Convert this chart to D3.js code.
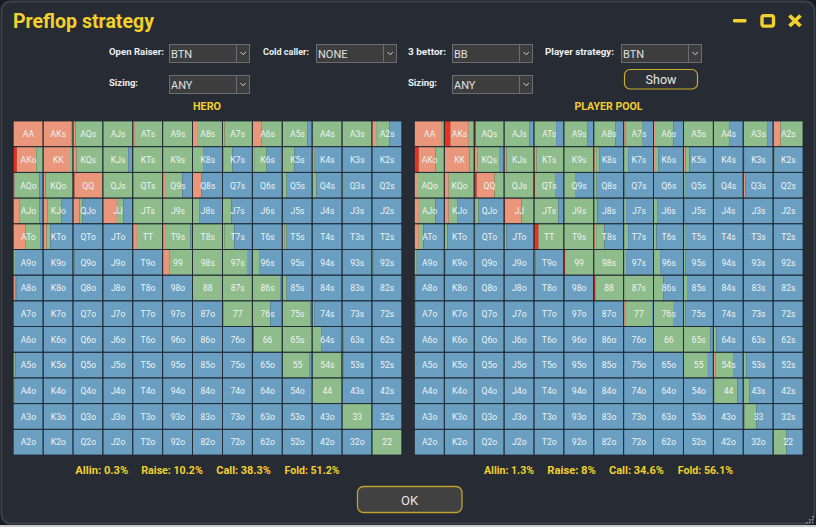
<!DOCTYPE html>
<html><head><meta charset="utf-8">
<script src="https://cdn.jsdelivr.net/npm/d3@7"></script>
<style>html,body{margin:0;padding:0;background:#1a1c20;overflow:hidden}svg{display:block}</style>
</head><body><svg id="c" width="816" height="527"></svg>
<script>
const ranks=["A","K","Q","J","T","9","8","7","6","5","4","3","2"];
// percent of each cell; fold is whatever remains
const heroAllin=[
[0,0,0,0,0,0,0,0,0,0,0,0,0],
[12,0,0,0,0,0,0,0,0,0,0,0,0],
[0,0,5,0,0,0,0,0,0,0,0,0,0],
[0,0,0,0,0,0,0,0,0,0,0,0,0],
[0,0,0,0,0,0,0,0,0,0,0,0,0],
[0,0,0,0,0,0,0,0,0,0,0,0,0],
[0,0,0,0,0,0,0,0,0,0,0,0,0],
[0,0,0,0,0,0,0,0,0,0,0,0,0],
[0,0,0,0,0,0,0,0,5,0,0,0,0],
[0,0,0,0,0,0,0,0,0,0,0,0,0],
[0,0,0,0,0,0,0,0,0,0,0,0,0],
[0,0,0,0,0,0,0,0,0,0,0,0,0],
[0,0,0,0,0,0,0,0,0,0,0,0,0]];
const heroRaise=[
[100,94,8,0,7,0,15,7,30,0,0,0,14],
[65,90,12,0,0,0,0,3,6,6,6,0,0],
[5,8,95,0,0,8,30,0,0,0,0,0,0],
[20,14,22,47,0,0,0,0,0,0,0,0,0],
[42,12,0,0,14,8,0,6,0,7,0,0,0],
[0,3,0,0,0,22,0,0,0,0,0,0,0],
[8,0,0,0,0,0,0,0,0,0,0,0,0],
[0,0,0,0,0,0,0,3,0,0,0,0,0],
[0,0,0,0,0,0,0,0,0,0,0,0,0],
[0,0,0,0,0,0,0,0,0,0,0,0,0],
[0,0,0,0,0,0,0,0,0,0,0,0,0],
[0,0,0,0,0,0,0,0,0,0,0,0,0],
[0,0,0,0,0,0,0,0,0,0,0,0,0]];
const heroCall=[
[0,6,92,100,93,100,85,93,70,85,100,100,44],
[23,10,88,85,100,100,35,30,42,35,3,0,0],
[83,92,0,100,100,58,0,0,0,15,15,6,0],
[67,48,10,21,100,100,24,30,0,0,0,0,0],
[48,12,0,0,86,85,100,34,0,8,0,0,0],
[6,0,5,2,0,78,100,85,25,0,0,0,6],
[2,0,0,0,0,0,100,100,93,15,0,0,0],
[0,0,0,0,0,0,0,97,60,95,7,0,0],
[0,0,0,0,0,0,0,0,95,100,32,5,0],
[7,0,0,0,0,0,0,0,0,92,97,4,0],
[5,0,0,0,0,0,0,0,0,0,100,0,0],
[0,0,0,0,0,0,0,0,0,0,0,100,0],
[0,0,0,0,0,0,0,0,0,0,0,0,100]];
const poolAllin=[
[0,20,6,0,0,0,0,0,0,0,0,0,0],
[14,0,3,0,0,0,0,0,0,0,0,0,3],
[0,0,8,0,3,0,0,0,0,0,0,0,0],
[0,0,0,3,0,0,0,0,0,0,0,0,0],
[0,0,0,0,14,0,0,0,0,0,0,0,0],
[0,0,0,0,0,4,0,0,0,0,0,0,0],
[0,0,0,0,0,0,5,0,0,0,0,0,0],
[0,0,0,0,0,0,0,0,0,0,0,0,0],
[0,0,0,0,0,0,0,0,0,0,0,0,0],
[0,0,0,0,0,0,0,0,0,0,0,0,0],
[0,0,0,0,0,0,0,0,0,0,0,0,0],
[0,0,0,0,0,0,0,0,0,0,0,0,0],
[0,0,0,0,0,0,0,0,0,0,0,0,0]];
const poolRaise=[
[92,62,0,0,0,0,0,7,8,0,0,0,25],
[57,85,7,8,8,0,8,0,8,7,0,0,0],
[12,15,60,0,0,0,0,0,0,0,0,7,0],
[15,15,3,55,0,0,0,0,0,0,0,0,0],
[15,0,0,0,2,0,8,0,0,0,0,0,0],
[0,0,0,0,0,0,0,0,0,0,0,0,0],
[0,0,0,0,0,0,0,0,0,0,0,0,0],
[0,0,0,0,0,0,0,5,0,0,0,0,0],
[0,0,0,0,0,0,0,0,0,0,0,0,0],
[2,0,0,0,0,0,0,0,0,0,8,0,0],
[0,0,0,0,0,0,0,0,0,0,3,0,0],
[0,0,0,0,0,0,0,0,0,0,0,4,0],
[0,0,0,0,0,0,0,0,0,0,0,0,0]];
const poolCall=[
[8,18,94,84,74,78,72,57,58,100,55,80,75],
[29,15,73,92,92,100,10,15,8,13,0,3,2],
[88,85,32,100,70,40,10,3,0,5,4,0,0],
[55,30,12,42,82,100,12,8,12,3,0,0,0],
[15,10,3,8,84,100,28,15,10,5,0,0,0],
[8,3,3,0,5,96,100,8,22,6,0,0,0],
[4,0,0,0,0,2,95,100,33,12,0,0,0],
[3,0,0,0,0,0,0,90,68,6,0,0,0],
[0,0,0,0,0,0,0,0,100,90,10,0,0],
[0,0,0,0,0,0,0,0,0,82,58,10,0],
[0,0,0,0,0,0,0,0,0,0,77,20,0],
[0,0,0,0,0,0,0,0,0,0,0,40,0],
[0,0,0,0,0,0,0,0,0,0,0,0,45]];
const heroStats=["Allin: 0.3%","Raise: 10.2%","Call: 38.3%","Fold: 51.2%"];
const poolStats=["Allin: 1.3%","Raise: 8%","Call: 34.6%","Fold: 56.1%"];
const actionNames=["allin","raise","call","fold"];
const actionColors=["#ee2f20","#e9967a","#8fbc8b","#6a9fc1"];

const YEL="#f2d02e",FONT="Roboto,'Noto Sans',sans-serif";
const svg=d3.select("#c");
svg.append("rect").attr("x",1.5).attr("y",1.5).attr("width",813).attr("height",522).attr("rx",9)
 .attr("fill","#272b33").attr("stroke","#3c424b").attr("stroke-width",2);
svg.append("rect").attr("x",0).attr("y",525).attr("width",816).attr("height",2).attr("fill","#c9cacc");

function txt(x,y,s,o={}){
 const t=svg.append("text").attr("x",x).attr("y",y).text(s)
  .attr("font-family",FONT).attr("font-weight",o.w||700).attr("font-size",o.s||9.5)
  .attr("fill",o.c||"#eceff2").attr("text-anchor",o.a||"start").attr("dominant-baseline","central");
 if(o.l) t.attr("textLength",o.l).attr("lengthAdjust","spacingAndGlyphs");
 return t;
}
txt(13,21,"Preflop strategy",{s:20,c:YEL,l:141});

// window buttons
svg.append("rect").attr("x",733).attr("y",19).attr("width",13.5).attr("height",3.6).attr("rx",1).attr("fill",YEL);
svg.append("rect").attr("x",762).attr("y",15.6).attr("width",11.5).attr("height",10.5).attr("rx",2).attr("fill","none").attr("stroke",YEL).attr("stroke-width",3.4);
svg.append("path").attr("d","M789.5 15.5L800.5 26M800.5 15.5L789.5 26").attr("stroke",YEL).attr("stroke-width",3.8).attr("fill","none");

// dropdowns
const selects=[
 {lab:"Open Raiser:",lx:109,ll:55,x:169,y:44,val:"BTN"},
 {lab:"Sizing:",lx:109,ll:29,x:169,y:75,val:"ANY"},
 {lab:"Cold caller:",lx:263,ll:46,x:316,y:44,val:"NONE"},
 {lab:"3 bettor:",lx:408,ll:38,x:452,y:44,val:"BB"},
 {lab:"Sizing:",lx:408,ll:29,x:452,y:75,val:"ANY"},
 {lab:"Player strategy:",lx:545,ll:69,x:621,y:44,val:"BTN"}];
selects.forEach(d=>{
 txt(d.lx,d.y+7,d.lab,{s:9.5,l:d.ll});
 svg.append("rect").attr("x",d.x+.5).attr("y",d.y+.5).attr("width",80).attr("height",18).attr("fill","#3d3d3d").attr("stroke","#6a6e74").attr("stroke-width",1);
 svg.append("line").attr("x1",d.x+67.5).attr("x2",d.x+67.5).attr("y1",d.y).attr("y2",d.y+18).attr("stroke","#6a6e74");
 txt(d.x+2,d.y+10,d.val,{s:11,w:400,c:"#dfe1e3"});
 svg.append("path").attr("d",`M${d.x+71.5} ${d.y+8}l2.7 2.7l2.7 -2.7`).attr("fill","none").attr("stroke","#d8d8d8").attr("stroke-width",1);
});
svg.append("rect").attr("x",624.5).attr("y",69.5).attr("width",73).attr("height",19.5).attr("rx",5.5).attr("fill","#2d3036").attr("stroke","#cdae2c").attr("stroke-width",1.2);
txt(661,79.5,"Show",{s:12.5,w:400,a:"middle",c:"#e6e6e6"});
svg.append("rect").attr("x",357.5).attr("y",486.5).attr("width",104.5).attr("height",26).attr("rx",6).attr("fill","#414141").attr("stroke","#bfa12c").attr("stroke-width",1.3);
txt(409.5,500,"OK",{s:13,w:400,a:"middle",c:"#e6e6e6"});
txt(207,106,"HERO",{s:10.5,c:YEL,a:"middle",l:28});
txt(608.5,106,"PLAYER POOL",{s:10.5,c:YEL,a:"middle",l:68});

// range grids
const yScale=d3.scaleBand().domain(d3.range(13)).range([121,455]);
function cellLabel(r,c){
 if(r===c) return ranks[r]+ranks[c];
 return r<c? ranks[r]+ranks[c]+"s": ranks[c]+ranks[r]+"o";
}
function grid(x0,x1,allin,raise,call){
 const xScale=d3.scaleBand().domain(d3.range(13)).range([x0,x1]);
 const pct=d3.scaleLinear().domain([0,100]).range([0,xScale.bandwidth()]);
 const g=svg.append("g");
 const cells=[];
 for(let r=0;r<13;r++)for(let c=0;c<13;c++){
  const a=allin[r][c],ra=raise[r][c],ca=call[r][c],f=Math.max(0,100-a-ra-ca);
  cells.push({r,c,label:cellLabel(r,c),vals:[a,ra,ca,f]});
 }
 const cg=g.selectAll("g").data(cells).join("g");
 cg.each(function(d){
  let acc=0;
  const stack=d.vals.map((v,i)=>{const s={i,x:acc,v};acc+=v;return s;}).filter(s=>s.v>0);
  d3.select(this).selectAll("rect").data(stack).join("rect")
   .attr("data-action",s=>actionNames[s.i])
   .attr("x",s=>xScale(d.c)+pct(s.x)).attr("y",yScale(d.r))
   .attr("width",s=>pct(s.v)).attr("height",yScale.bandwidth())
   .attr("fill",s=>actionColors[s.i]);
 });
 g.selectAll("rect.b").data(cells).join("rect").attr("class","b")
  .attr("x",d=>xScale(d.c)).attr("y",d=>yScale(d.r))
  .attr("width",xScale.bandwidth()).attr("height",yScale.bandwidth())
  .attr("fill","none").attr("stroke","#1d2731").attr("stroke-opacity",.85).attr("stroke-width",.9);
 g.selectAll("text").data(cells).join("text")
  .attr("x",d=>xScale(d.c)+xScale.bandwidth()/2+.3).attr("y",d=>yScale(d.r)+yScale.bandwidth()/2+.3)
  .attr("text-anchor","middle").attr("dominant-baseline","central")
  .attr("font-family",FONT).attr("font-size",8.6).attr("fill","#eef3f5").text(d=>d.label);
}
grid(13.2,401.8,heroAllin,heroRaise,heroCall);
grid(414.4,803,poolAllin,poolRaise,poolCall);

// totals
const heroStatX=[[75.3,53],[141.3,61.5],[216.3,54.5],[284.6,55]];
const poolStatX=[[484,50],[547.3,48.5],[609,55],[677.7,55.5]];
heroStats.forEach((s,i)=>txt(heroStatX[i][0],470.7,s,{s:10.5,c:YEL,l:heroStatX[i][1]}));
poolStats.forEach((s,i)=>txt(poolStatX[i][0],470.7,s,{s:10.5,c:YEL,l:poolStatX[i][1]}));

// resize grip
const grip=[[812,522],[809,522],[806,522],[812,519],[809,519],[812,516]];
svg.selectAll("rect.g").data(grip).join("rect").attr("class","g").attr("x",d=>d[0]).attr("y",d=>d[1]).attr("width",1.5).attr("height",1.5).attr("fill","#9a9da2");
</script></body></html>
